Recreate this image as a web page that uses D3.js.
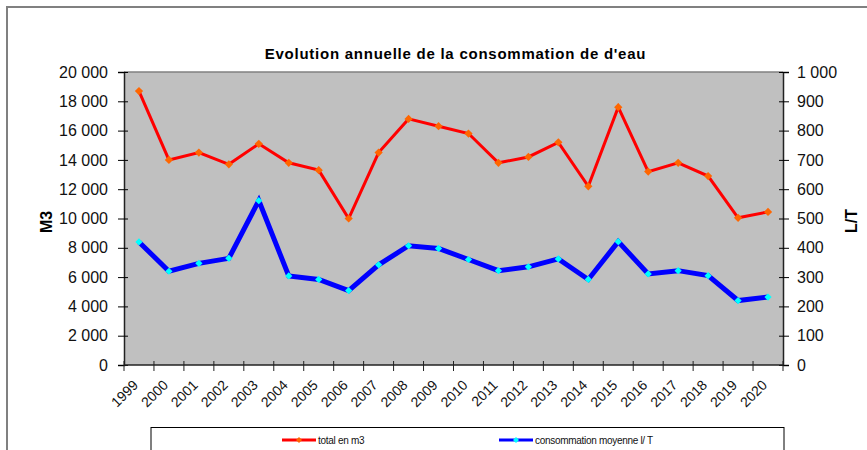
<!DOCTYPE html>
<html>
<head>
<meta charset="utf-8">
<script src="https://cdn.jsdelivr.net/npm/d3@7"></script>
<style>
  body { margin: 0; background: #fff; }
  svg { display: block; font-family: Arial, "Liberation Sans", sans-serif; }
</style>
</head>
<body>
<svg id="chart" width="867" height="450"></svg>
<script>
// annual data
const years = ["1999","2000","2001","2002","2003","2004","2005","2006","2007","2008","2009",
               "2010","2011","2012","2013","2014","2015","2016","2017","2018","2019","2020"];
const totalM3 = [18700, 14000, 14500, 13700, 15100, 13800, 13300, 10000, 14500, 16800, 16300,
                 15800, 13800, 14200, 15200, 12200, 17600, 13200, 13800, 12900, 10050, 10450];
const consoLT = [420, 320, 347, 364, 561, 304, 292, 254, 342, 407, 398,
                 360, 322, 335, 362, 292, 421, 311, 322, 305, 220, 232];
const leftTicks = [0, 2000, 4000, 6000, 8000, 10000, 12000, 14000, 16000, 18000, 20000];
const rightTicks = [0, 100, 200, 300, 400, 500, 600, 700, 800, 900, 1000];
const seriesNames = ["total en m3", "consommation moyenne l/ T"];

const svg = d3.select("#chart");
const plot = {left: 124, right: 783, top: 72, bottom: 365};

const fr = d3.formatLocale({decimal: ",", thousands: " ", grouping: [3], currency: ["", ""]});
const fmt = fr.format(",");

// outer frame
svg.append("rect").attr("x", 7).attr("y", 7).attr("width", 900).attr("height", 500)
    .attr("fill", "none").attr("stroke", "#808080").attr("stroke-width", 2);

let x = d3.scaleBand().domain(years).range([plot.left, plot.right]).padding(0);
let yL = d3.scaleLinear().domain([0, 20000]).range([plot.bottom, plot.top]);
let yR = d3.scaleLinear().domain([0, 1000]).range([plot.bottom, plot.top]);

// plot area
svg.append("rect").attr("x", plot.left).attr("y", plot.top)
    .attr("width", plot.right - plot.left).attr("height", plot.bottom - plot.top)
    .attr("fill", "#c0c0c0");
svg.append("line").attr("x1", plot.left).attr("x2", plot.right)
    .attr("y1", plot.top).attr("y2", plot.top)
    .attr("stroke", "#808080").attr("stroke-width", 1.5);

// left axis
let gL = svg.append("g").attr("transform", `translate(${plot.left},0)`)
    .call(d3.axisLeft(yL).tickValues(leftTicks).tickFormat(fmt).tickSize(6).tickPadding(10));
gL.selectAll(".tick line").attr("x1", 4);
gL.selectAll(".tick text").attr("font-size", 16).attr("fill", "#111").attr("font-family", "Arial, 'Liberation Sans', sans-serif");

// right axis
let gR = svg.append("g").attr("transform", `translate(${plot.right},0)`)
    .call(d3.axisRight(yR).tickValues(rightTicks).tickFormat(fmt).tickSize(6).tickPadding(8));
gR.selectAll(".tick line").attr("x1", -4);
gR.selectAll(".tick text").attr("font-size", 16).attr("fill", "#111").attr("font-family", "Arial, 'Liberation Sans', sans-serif");

svg.selectAll(".domain").attr("stroke", "#222").attr("stroke-width", 1.5);

// x axis: ticks at category boundaries
let gX = svg.append("g");
gX.append("line").attr("x1", plot.left).attr("x2", plot.right)
    .attr("y1", plot.bottom).attr("y2", plot.bottom)
    .attr("stroke", "#222").attr("stroke-width", 1.5);
let bounds = years.map(d => x(d)).concat([plot.right]);
gX.selectAll(".xt").data(bounds).enter().append("line")
    .attr("x1", d => d).attr("x2", d => d)
    .attr("y1", plot.bottom - 4).attr("y2", plot.bottom + 6)
    .attr("stroke", "#222").attr("stroke-width", 1);
gX.selectAll(".xl").data(years).enter().append("text")
    .attr("transform", d => `translate(${x(d) + x.bandwidth() / 2},386) rotate(-45)`)
    .attr("text-anchor", "end")
    .attr("font-size", 14).attr("fill", "#111")
    .text(d => d);

// lines
let cx = d => x(d) + x.bandwidth() / 2;
let lineL = d3.line().x((d, i) => cx(years[i])).y(d => yL(d));
let lineR = d3.line().x((d, i) => cx(years[i])).y(d => yR(d));
let square = d3.symbol().type(d3.symbolSquare);

svg.append("path").datum(totalM3).attr("d", lineL)
    .attr("fill", "none").attr("stroke", "#ff0000").attr("stroke-width", 3);
svg.selectAll(".mL").data(totalM3).enter().append("path")
    .attr("transform", (d, i) => `translate(${cx(years[i])},${yL(d)}) rotate(45)`)
    .attr("d", square.size(34)).attr("fill", "#ff6600");

svg.append("path").datum(consoLT).attr("d", lineR)
    .attr("fill", "none").attr("stroke", "#0000ff").attr("stroke-width", 5);
svg.selectAll(".mR").data(consoLT).enter().append("path")
    .attr("transform", (d, i) => `translate(${cx(years[i])},${yR(d)}) rotate(45)`)
    .attr("d", square.size(26)).attr("fill", "#00ffff");

// title and axis titles
svg.append("text").attr("x", (plot.left + plot.right) / 2 + 2).attr("y", 59)
    .attr("text-anchor", "middle").attr("font-weight", "bold").attr("font-size", 15)
    .attr("letter-spacing", 0.75)
    .text("Evolution annuelle de la consommation de d'eau");
svg.append("text").attr("transform", "translate(52,222) rotate(-90)")
    .attr("text-anchor", "middle").attr("font-weight", "bold").attr("font-size", 16)
    .text("M3");
svg.append("text").attr("transform", "translate(857,221) rotate(-90)")
    .attr("text-anchor", "middle").attr("font-weight", "bold").attr("font-size", 16)
    .text("L/T");

// legend
let leg = svg.append("g");
leg.append("rect").attr("x", 151).attr("y", 427.5).attr("width", 633).attr("height", 40)
    .attr("fill", "#fff").attr("stroke", "#000").attr("stroke-width", 1);
let legItems = [
  {name: seriesNames[0], x: 282, line: "#ff0000", mark: "#ff6600"},
  {name: seriesNames[1], x: 499, line: "#0000ff", mark: "#00ffff"}
];
legItems.forEach(it => {
  leg.append("line").attr("x1", it.x).attr("x2", it.x + 34).attr("y1", 440).attr("y2", 440)
      .attr("stroke", it.line).attr("stroke-width", 3);
  leg.append("path").attr("transform", `translate(${it.x + 17},440) rotate(45)`)
      .attr("d", square.size(18)).attr("fill", it.mark);
  leg.append("text").attr("x", it.x + 36).attr("y", 443.5)
      .attr("font-size", 10).attr("fill", "#111").attr("letter-spacing", -0.3).text(it.name);
});
</script>
</body>
</html>
